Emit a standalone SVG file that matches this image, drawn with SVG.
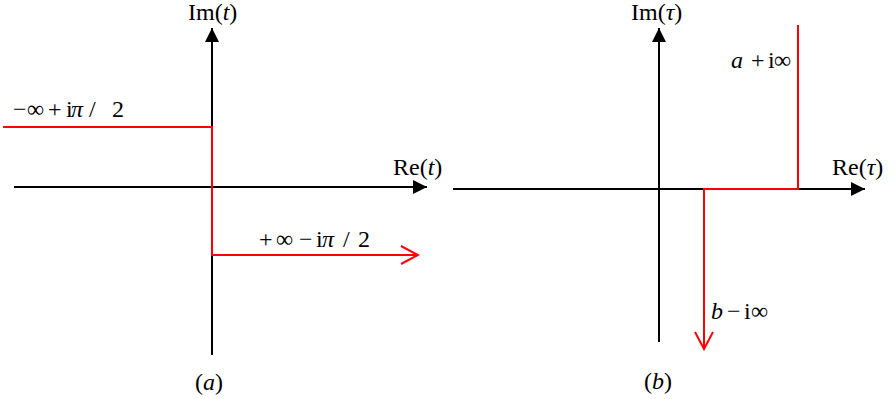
<svg xmlns="http://www.w3.org/2000/svg" width="896" height="399" viewBox="0 0 896 399">
<style>
.ax{stroke:#000;stroke-width:2;fill:none}
.rd{stroke:#f00;stroke-width:2;fill:none}
.t{font-family:"Liberation Serif","Times New Roman",serif;font-size:24px;fill:#000}
.i{font-style:italic}
</style>
<defs>
<marker id="ah" markerWidth="14" markerHeight="14" viewBox="0 0 14 14" refX="14" refY="7" orient="auto" markerUnits="userSpaceOnUse">
<path d="M0,0 L14,7 L0,14 Z" fill="#000"/>
</marker>
<marker id="ro" markerWidth="20" markerHeight="20" viewBox="0 0 20 20" refX="18" refY="10" orient="auto" markerUnits="userSpaceOnUse">
<path d="M1,1 L18,10 L1,19" fill="none" stroke="#f00" stroke-width="2"/>
</marker>
</defs>
<g id="connectors">
<line class="ax" x1="212" y1="355" x2="212" y2="28" marker-end="url(#ah)"/>
<line class="ax" x1="14" y1="187" x2="427" y2="187" marker-end="url(#ah)"/>
<polyline class="rd" points="3,127 212,127 212,255 418,255" marker-end="url(#ro)"/>
<line class="ax" x1="659" y1="342" x2="659" y2="28" marker-end="url(#ah)"/>
<line class="ax" x1="453" y1="189" x2="865" y2="189" marker-end="url(#ah)"/>
<polyline class="rd" points="798,25 798,189 704,189 704,349" marker-end="url(#ro)"/>
</g>
<g id="panel-a-labels">
<text class="t" x="188" y="20">Im(<tspan class="i">t</tspan>)</text>
<text class="t" y="117"><tspan x="13">−</tspan><tspan x="27">∞</tspan><tspan x="48">+</tspan><tspan x="66">i</tspan><tspan x="71" class="i">π</tspan><tspan x="89">/</tspan><tspan x="112">2</tspan></text>
<text class="t" x="393" y="175">Re(<tspan class="i">t</tspan>)</text>
<text class="t" y="247"><tspan x="259">+</tspan><tspan x="276">∞</tspan><tspan x="299">−</tspan><tspan x="316">i</tspan><tspan x="322" class="i">π</tspan><tspan x="343">/</tspan><tspan x="358">2</tspan></text>
<text class="t" x="195" y="390">(<tspan class="i">a</tspan>)</text>
</g>
<g id="panel-b-labels">
<text class="t" x="631" y="20">Im(<tspan class="i">τ</tspan>)</text>
<text class="t" y="68"><tspan x="731" class="i">a</tspan><tspan x="751">+</tspan><tspan x="768">i</tspan><tspan x="774">∞</tspan></text>
<text class="t" x="832" y="175">Re(<tspan class="i">τ</tspan>)</text>
<text class="t" y="319"><tspan x="711" class="i">b</tspan><tspan x="727">−</tspan><tspan x="744">i</tspan><tspan x="751">∞</tspan></text>
<text class="t" x="644" y="389">(<tspan class="i">b</tspan>)</text>
</g>
</svg>
